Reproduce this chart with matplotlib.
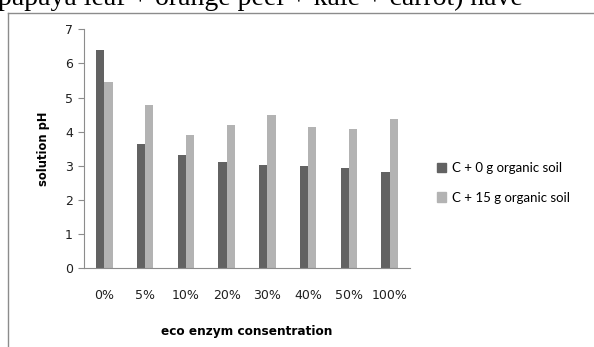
import numpy as np
import matplotlib.pyplot as plt
from matplotlib.lines import Line2D
from matplotlib.patches import Patch

concentrations = ["0%", "5%", "10%", "20%", "30%", "40%", "50%", "100%"]
ph_no_soil = [6.40, 3.63, 3.32, 3.12, 3.03, 3.00, 2.94, 2.82]
ph_with_soil = [5.45, 4.78, 3.89, 4.18, 4.49, 4.14, 4.09, 4.36]
series_names = ["C + 0 g organic soil", "C + 15 g organic soil"]

dark = "#626262"
light = "#b3b3b3"

fig = plt.figure(figsize=(5.94, 3.47), dpi=100)
W, H = 594, 347

# running text line above the chart frame, cut by the page edge
fig.text(-2 / W, 1 - 5 / H, "papaya leaf + orange peel + kale + carrot) have",
         family="Liberation Serif", fontsize=20, va="baseline", ha="left")

# chart frame border (left and top edges)
fig.add_artist(Line2D([7.5 / W, 7.5 / W], [0, 1 - 12.5 / H], transform=fig.transFigure,
                      color="#8c8c8c", lw=1))
fig.add_artist(Line2D([7.5 / W, 1], [1 - 12.5 / H, 1 - 12.5 / H], transform=fig.transFigure,
                      color="#8c8c8c", lw=1))

ax = fig.add_axes([84 / W, 1 - 268 / H, (410 - 84) / W, (268 - 29.3) / H])

x = np.arange(len(concentrations))
w = 0.2
ax.bar(x - w / 2, ph_no_soil, w, color=dark, label=series_names[0])
ax.bar(x + w / 2, ph_with_soil, w, color=light, label=series_names[1])

ax.set_xlim(-0.5, len(concentrations) - 0.5)
ax.set_ylim(0, 7)
ax.set_yticks(range(0, 8))
ax.set_xticks(x)
ax.set_xticklabels(concentrations)

for s in ["top", "right"]:
    ax.spines[s].set_visible(False)
for s in ["left", "bottom"]:
    ax.spines[s].set_color("#8c8c8c")
    ax.spines[s].set_linewidth(0.8)

ax.tick_params(axis="y", length=4, width=0.8, color="#8c8c8c", pad=4,
               labelsize=9, labelcolor="#202020")
ax.tick_params(axis="x", length=0, pad=15, labelsize=9, labelcolor="#202020")

ax.set_ylabel("solution pH", fontsize=8.3, fontweight="bold", labelpad=11)
ax.set_xlabel("eco enzym consentration", fontsize=8.7, fontweight="bold", labelpad=17)

handles = [Patch(color=dark), Patch(color=light)]
fig.legend(handles, series_names, loc="center left",
           bbox_to_anchor=(425 / W, 1 - 183 / H), frameon=False,
           prop={"family": "Lato", "size": 9.5}, handlelength=0.7, handleheight=0.7,
           handletextpad=0.45, labelspacing=1.3)

fig.savefig("out.png", dpi=100)
